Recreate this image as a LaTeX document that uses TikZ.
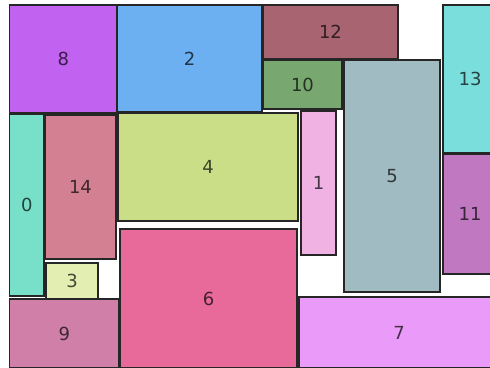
\documentclass[tikz,border=0pt]{standalone}
\usepackage{fontspec}
\setmainfont{DejaVu Sans}
\definecolor{c0}{RGB}{120,224,200}
\definecolor{c1}{RGB}{240,178,226}
\definecolor{c2}{RGB}{108,176,242}
\definecolor{c3}{RGB}{226,238,178}
\definecolor{c4}{RGB}{202,222,136}
\definecolor{c5}{RGB}{160,188,194}
\definecolor{c6}{RGB}{232,106,154}
\definecolor{c7}{RGB}{234,154,248}
\definecolor{c8}{RGB}{194,98,240}
\definecolor{c9}{RGB}{208,128,168}
\definecolor{c10}{RGB}{120,168,112}
\definecolor{c11}{RGB}{192,120,192}
\definecolor{c12}{RGB}{168,100,112}
\definecolor{c13}{RGB}{122,222,220}
\definecolor{c14}{RGB}{210,128,146}
\begin{document}
\begin{tikzpicture}[x=1pt,y=-1pt,
  blk/.style={draw=black!85,line width=1.3pt},
  lbl/.style={font=\fontsize{18}{21}\selectfont,inner sep=0pt}]
\useasboundingbox (0,0) rectangle (490,367);
\fill[white] (0,0) rectangle (490,367);
\begin{scope}
\clip (0,0) rectangle (490,367);
\newcommand\blkbox[6]{%
  \draw[blk,fill=#1] (#2,#3) rectangle (#4,#5);
  \node[lbl,text=#1!30!black] (n#6) at ({(#2+#4)/2},{(#3+#5)/2}) {#6};}
\blkbox{c8}{9.5}{5}{117}{113}{8}
\blkbox{c2}{117}{5}{262}{112}{2}
\blkbox{c12}{263}{5}{398}{59}{12}
\blkbox{c10}{263}{60}{342}{109}{10}
\blkbox{c13}{443}{5}{497}{153}{13}
\blkbox{c0}{9.5}{114}{44}{296}{0}
\blkbox{c14}{45}{115}{116}{259}{14}
\blkbox{c4}{118}{113}{298}{221}{4}
\blkbox{c1}{301}{111}{336}{255}{1}
\blkbox{c5}{344}{60}{440}{292}{5}
\blkbox{c11}{443}{154}{497}{274}{11}
\blkbox{c3}{46}{263}{98}{299}{3}
\blkbox{c9}{9.5}{299}{119}{368}{9}
\blkbox{c6}{120}{229}{297}{368}{6}
\blkbox{c7}{299}{297}{499}{368}{7}
\end{scope}
\end{tikzpicture}
\end{document}
